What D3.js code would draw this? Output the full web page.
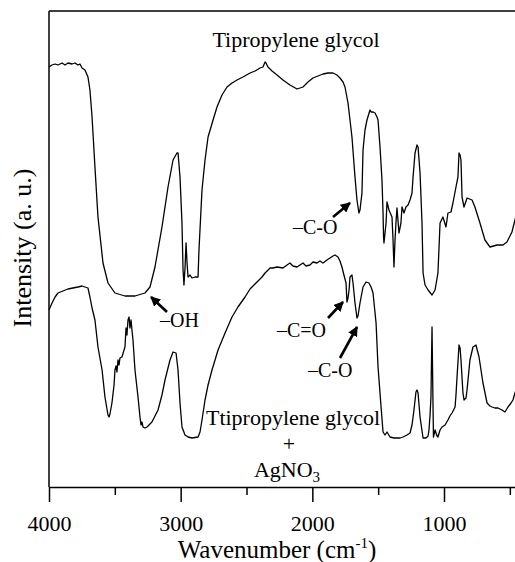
<!DOCTYPE html>
<html><head><meta charset="utf-8">
<script src="https://cdn.jsdelivr.net/npm/d3@7"></script>
<style>
html,body{margin:0;padding:0;background:#fff;}
text{font-family:"Liberation Serif","Times New Roman",serif;fill:#000;}
</style></head>
<body><svg id="chart" width="515" height="562"></svg>
<script>
// Wavenumber (cm-1), intensity (a.u.) pairs
const tpgSpectrum = [[4000,420],[3977,422],[3954,423],[3932,422],[3901,424],[3878,422],[3856,424],[3825,423],[3803,424],[3780,422],[3765,423],[3749,419],[3727,417],[3704,410],[3689,397],[3673,370],[3651,320],[3628,270],[3590,224],[3552,204],[3499,194],[3423,191],[3347,191],[3271,194],[3233,200],[3195,220],[3142,260],[3096,300],[3058,327],[3028,334],[3020,334],[3005,310],[2990,264],[2982,217],[2975,202],[2967,219],[2959,244],[2952,225],[2944,210],[2929,212],[2914,209],[2891,210],[2868,210],[2861,237],[2838,297],[2815,327],[2792,350],[2754,367],[2724,380],[2686,392],[2648,400],[2610,404],[2572,407],[2527,410],[2473,414],[2435,416],[2397,419],[2375,420],[2359,425],[2352,424],[2337,420],[2306,416],[2268,412],[2223,407],[2170,402],[2116,398],[2071,400],[2033,405],[1995,409],[1957,411],[1919,413],[1881,414],[1843,414],[1813,412],[1790,409],[1767,405],[1752,400],[1729,384],[1714,367],[1699,350],[1676,310],[1661,287],[1653,280],[1646,274],[1638,277],[1623,294],[1615,337],[1600,357],[1585,367],[1562,377],[1554,375],[1539,375],[1524,374],[1509,370],[1501,367],[1486,340],[1471,307],[1463,274],[1459,250],[1456,244],[1440,264],[1433,285],[1418,277],[1395,270],[1387,247],[1380,220],[1372,247],[1365,264],[1357,279],[1342,254],[1327,264],[1319,280],[1304,274],[1289,280],[1273,282],[1258,287],[1243,294],[1235,310],[1220,334],[1205,342],[1197,340],[1182,314],[1167,264],[1159,214],[1144,202],[1121,197],[1091,192],[1068,197],[1046,214],[1030,264],[1008,270],[985,260],[970,274],[947,275],[932,284],[909,300],[894,310],[886,334],[878,332],[871,327],[863,290],[848,280],[825,289],[787,287],[765,280],[727,264],[689,247],[651,240],[597,242],[552,242],[522,245],[484,255],[461,267],[423,287],[400,300]];

const tpgAgSpectrum = [[4000,177],[3977,184],[3954,190],[3932,194],[3894,196],[3856,198],[3818,199],[3780,200],[3749,201],[3727,200],[3704,199],[3689,190],[3673,179],[3651,167],[3628,140],[3597,117],[3575,90],[3552,72],[3544,70],[3537,73],[3522,84],[3506,102],[3499,117],[3491,121],[3484,115],[3476,127],[3468,122],[3461,129],[3446,130],[3430,137],[3423,140],[3415,159],[3408,152],[3400,167],[3392,170],[3385,159],[3377,167],[3370,157],[3362,147],[3347,117],[3324,90],[3309,70],[3301,62],[3294,65],[3286,60],[3271,59],[3256,60],[3218,65],[3172,77],[3142,92],[3119,107],[3081,127],[3058,135],[3035,134],[3020,117],[3005,84],[2990,60],[2967,52],[2944,50],[2914,49],[2868,50],[2853,55],[2838,67],[2815,87],[2792,102],[2762,117],[2716,137],[2663,154],[2610,170],[2565,180],[2511,190],[2473,198],[2458,200],[2420,205],[2382,210],[2359,214],[2321,219],[2299,219],[2268,220],[2223,219],[2192,222],[2170,224],[2147,221],[2116,220],[2094,222],[2071,224],[2048,221],[2018,222],[1995,225],[1965,224],[1942,226],[1919,224],[1889,227],[1866,229],[1843,231],[1828,232],[1805,230],[1790,226],[1775,220],[1760,212],[1744,204],[1737,185],[1729,189],[1721,197],[1714,210],[1699,212],[1691,204],[1676,184],[1661,169],[1653,171],[1638,184],[1615,200],[1592,205],[1570,204],[1554,200],[1539,194],[1516,164],[1501,120],[1478,80],[1463,55],[1448,52],[1433,55],[1410,50],[1380,49],[1357,49],[1334,49],[1311,50],[1281,52],[1258,54],[1243,62],[1228,77],[1213,95],[1205,97],[1197,94],[1182,70],[1159,49],[1137,49],[1121,51],[1114,57],[1106,72],[1099,90],[1091,160],[1084,87],[1080,50],[1068,57],[1053,51],[1046,50],[1030,57],[1015,60],[992,62],[970,67],[955,71],[939,74],[916,80],[909,92],[901,110],[886,142],[878,139],[871,127],[856,94],[848,87],[833,89],[825,97],[803,127],[780,140],[757,142],[734,130],[704,104],[673,84],[651,81],[635,80],[613,79],[590,79],[560,77],[537,75],[514,80],[491,84],[476,87],[461,94],[438,102],[400,110]];

const majorTicks = [4000, 3000, 2000, 1000];
const minorTicks = [3500, 2500, 1500, 500];
const xDomain = [4000, 400];
const yDomain = [0, 476];

const svg = d3.select("#chart");
const L = 49, R = 523, T = 11, B = 487;
const x = d3.scaleLinear().domain(xDomain).range([L, R]);
const y = d3.scaleLinear().domain(yDomain).range([B, T]);

// frame: left and top lines
svg.append("line").attr("x1", L).attr("x2", L).attr("y1", T).attr("y2", B)
  .attr("stroke", "#000").attr("stroke-width", 1.5);
svg.append("line").attr("x1", L).attr("x2", 515).attr("y1", T).attr("y2", T)
  .attr("stroke", "#000").attr("stroke-width", 1.5);

// bottom axis
const gx = svg.append("g").attr("transform", `translate(0,${B})`)
  .call(d3.axisBottom(x).tickValues(majorTicks).tickFormat(d3.format("d"))
    .tickSize(15).tickSizeOuter(0).tickPadding(13));
gx.select(".domain").attr("stroke-width", 1.5);
gx.selectAll(".tick line").attr("stroke-width", 1.5);
gx.selectAll(".tick text").style("font-size", "22px").style("font-family", '"Liberation Serif","Times New Roman",serif');
const gm = svg.append("g").attr("transform", `translate(0,${B})`)
  .call(d3.axisBottom(x).tickValues(minorTicks).tickFormat("").tickSize(8).tickSizeOuter(0));
gm.select(".domain").remove();
gm.selectAll(".tick line").attr("stroke-width", 1.5);

// spectra
const line = d3.line().x(d => x(d[0])).y(d => y(d[1]));
[tpgSpectrum, tpgAgSpectrum].forEach(s => {
  svg.append("path").datum(s).attr("d", line)
    .attr("fill", "none").attr("stroke", "#000").attr("stroke-width", 1.3)
    .attr("stroke-linejoin", "round");
});

// axis titles
const xt = svg.append("text").attr("x", 277).attr("y", 558).attr("text-anchor", "middle")
  .style("font-size", "25px");
xt.append("tspan").text("Wavenumber (cm");
xt.append("tspan").attr("dy", -10).style("font-size", "15px").text("-1");
xt.append("tspan").attr("dy", 10).text(")");

svg.append("text").attr("transform", "translate(31,248) rotate(-90)")
  .attr("text-anchor", "middle").style("font-size", "26px").text("Intensity (a. u.)");

// series labels
svg.append("text").attr("x", 296).attr("y", 47).attr("text-anchor", "middle")
  .style("font-size", "22px").text("Tipropylene glycol");
svg.append("text").attr("x", 293).attr("y", 425).attr("text-anchor", "middle")
  .style("font-size", "22px").text("Ttipropylene glycol");
svg.append("text").attr("x", 289).attr("y", 451).attr("text-anchor", "middle")
  .style("font-size", "22px").text("+");
const ag = svg.append("text").attr("x", 287).attr("y", 477).attr("text-anchor", "middle")
  .style("font-size", "22px");
ag.append("tspan").text("AgNO");
ag.append("tspan").attr("dy", 5).style("font-size", "15px").text("3");

// annotations
const defs = svg.append("defs");
defs.append("marker").attr("id", "ah").attr("viewBox", "0 0 10 10")
  .attr("refX", 9).attr("refY", 5).attr("markerUnits", "userSpaceOnUse")
  .attr("markerWidth", 10).attr("markerHeight", 10).attr("orient", "auto")
  .append("path").attr("d", "M0,0 L10,5 L0,10 Z").attr("fill", "#000");

const notes = [
  {text: "\u2013OH", tx: 160, ty: 327, x1: 167, y1: 312, x2: 151, y2: 297},
  {text: "\u2013C=O", tx: 277, ty: 337, x1: 328, y1: 318, x2: 343, y2: 302},
  {text: "\u2013C-O", tx: 308, ty: 377, x1: 340, y1: 358, x2: 357, y2: 327},
  {text: "\u2013C-O", tx: 293, ty: 234, x1: 333, y1: 217, x2: 350, y2: 203}
];
notes.forEach(n => {
  svg.append("text").attr("x", n.tx).attr("y", n.ty).style("font-size", "20px").text(n.text);
  svg.append("line").attr("x1", n.x1).attr("y1", n.y1).attr("x2", n.x2).attr("y2", n.y2)
    .attr("stroke", "#000").attr("stroke-width", 2.6).attr("marker-end", "url(#ah)");
});
</script></body></html>
